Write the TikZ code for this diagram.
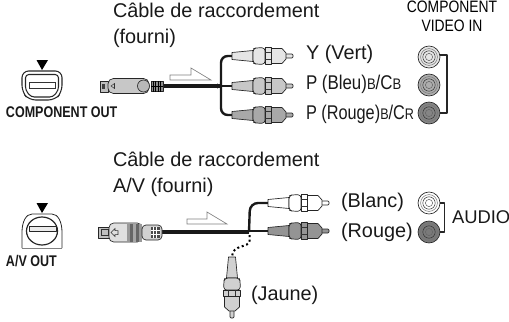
\documentclass[tikz,border=0pt]{standalone}
\usepackage{fontspec}
\setmainfont{Liberation Sans}
\usepackage{graphicx}
\tikzset{
  lab/.style={anchor=base west,inner sep=0pt,outer sep=0pt,font=\fontsize{14.9}{16}\selectfont,text=black!90},
  hw/.style={draw=black!85,line width=.5pt,line join=round},
  thin hw/.style={draw=black!80,line width=.38pt},
  flow/.style={draw=black!50,fill=white,line width=.5pt},
  cablemain/.style={draw=black!90,line width=3.6pt},
  cablearm/.style={draw=black!90,line width=1.8pt},
  cablethin/.style={draw=black!90,line width=1.3pt},
}
\newcommand\rcaplug[4]{%
\begin{scope}[shift={(#1,#2)},rotate=#3]
 \draw[hw,fill=#4,rounded corners=.8pt] (53,-2) -- (61,-2) -- (61,2) -- (53,2) -- cycle;
 \draw[hw,fill=#4] (0,-3.5) -- (21,-5.5) -- (21,5.5) -- (0,3.5) -- cycle;
 \draw[hw,fill=#4,rounded corners=2.2pt] (21,-7) -- (24,-8.2) -- (33,-8.2) -- (33,8.2) -- (24,8.2) -- (21,7) -- cycle;
 \draw[hw,fill=#4] (39,-7.5) -- (50,-7.5) -- (54,-3) -- (54,3) -- (50,7.5) -- (39,7.5) -- cycle;
 \draw[hw,fill=#4] (33,-8.8) rectangle (39,8.8);
 \draw[thin hw] (33,-3.5) -- (39,-3.5) (33,3.5) -- (39,3.5);
\end{scope}}
\newcommand\jack[4]{%
 \draw[hw,fill=#3] (#1,#2) circle (11);
 \draw[thin hw,draw=black!55] (#1,#2) circle (8.4);
 \draw[thin hw,fill=#4] (#1,#2) circle (6.2);
 \draw[thin hw,draw=black!60] (#1,#2) circle (3.6);
}
\newcommand\smc[1]{{\fontsize{11.5}{12}\selectfont #1}}
\begin{document}
\begin{tikzpicture}[x=.75pt,y=-.75pt]
\useasboundingbox (0,0) rectangle (509,321);
% ---- coordinates of plug ends
\coordinate (ya) at (233,56);
\coordinate (pb) at (233,86);
\coordinate (pr) at (233,115);
\coordinate (split) at (221,86);
\coordinate (wa) at (268,203);
\coordinate (ra) at (268,231);
\coordinate (split2) at (249,232);
\coordinate (ja) at (232,257);
% ---- top cable
\draw[cablemain] (160,86) -- (split);
\draw[cablearm,rounded corners=5pt] (221,87) -- (221,56) -- (ya);
\draw[cablearm,rounded corners=5pt] (221,85) -- (221,115) -- (pr);
\draw[cablethin] (split) -- (pb);
\fill[black!90] (217,83.5) -- (222,86) -- (217,88.5) -- cycle;
\rcaplug{232}{56}{0}{black!10}
\rcaplug{232}{86}{0}{black!22}
\rcaplug{232}{115}{0}{black!34}
% top connector
\draw[hw,fill=black!25] (100,81) rectangle (108,92);
\fill[black!75] (102,84) rectangle (105,89);
\draw[hw,fill=black!22,rounded corners=4pt] (108,78.5) -- (149,78.5) -- (149,93.5) -- (108,93.5) -- cycle;
\draw[hw,fill=black!45] (151,81) rectangle (163,91.5);
\foreach \x in {153,155.5,158,160.5} \draw[draw=black,line width=.7pt] (\x,81) -- (\x,91.5);
\draw[draw=black,line width=.5pt] (151,86) -- (163,86);
\draw[hw,fill=black!28] (143.5,86) circle (6);
\draw[thin hw] (111,86) -- (114.5,83.5) -- (114.5,88.5) -- cycle;
% flow arrows
\draw[flow] (170,75) -- (191,75) -- (191,68) -- (211,80) -- (170,80) -- cycle;
\draw[flow] (187,219) -- (207,219) -- (207,212) -- (227,224) -- (187,224) -- cycle;
% ---- top left icon
\fill[black] (36.5,60) -- (48,60) -- (42,70) -- cycle;
\draw[hw,line width=.8pt,rounded corners=5pt] (22,71) -- (62,71) -- (62,92) -- (55,100) -- (29,100) -- (22,92) -- cycle;
\draw[hw,line width=.8pt,rounded corners=2.5pt] (25.5,74.5) -- (58.5,74.5) -- (58.5,90) -- (53,97) -- (31,97) -- (25.5,90) -- cycle;
\draw[thin hw] (29,82) rectangle (55,88);
% ---- bottom left icon
\fill[black] (36.5,203) -- (48,203) -- (42,213) -- cycle;
\draw[hw,line width=.6pt] (22,248) -- (22,232) .. controls (22,222) and (26,214) .. (32,214) -- (52,214) .. controls (58,214) and (62,222) .. (62,232) -- (62,248);
\draw[draw=black!50,line width=.35pt] (22,248) -- (62,248);
\draw[hw,line width=.9pt] (42,231) ellipse (15.5 and 14);
\draw[hw,line width=.7pt,fill=black!8] (29,226.5) rectangle (56,231);
% ---- bottom cable
\draw[cablemain] (160,232) -- (split2);
\draw[cablearm,rounded corners=6pt] (249,232) -- (250,203) -- (wa);
\draw[cablethin] (248,231) -- (ra);
\rcaplug{268}{203}{0}{white}
\rcaplug{268}{231}{0}{black!42}
\draw[draw=black,line width=1.5pt,dash pattern=on 1.5pt off 2pt] (249.5,235) -- (249.5,241) .. controls (249,248) and (232,244) .. (ja);
\rcaplug{232}{257}{-90}{black!18}
% bottom connector
\draw[hw,fill=black!25] (98,227) rectangle (109,238);
\draw[thin hw] (101,229.5) rectangle (108,235.5);
\draw[hw,fill=black!12,rounded corners=3.5pt] (109,223) -- (142,223) -- (142,242) -- (109,242) -- cycle;
\draw[thin hw,fill=black!12] (111,232.5) -- (115,228.5) -- (115,230.5) -- (118,230.5) -- (118,234.5) -- (115,234.5) -- (115,236.5) -- cycle;
\foreach \x/\g in {127/40,130/60,133/35,136/60,139/40} \fill[black!\g] (\x,223.5) rectangle (\x+2.6,241.5);
\draw[hw,fill=black!18,rounded corners=3pt] (142,225) -- (162,225) -- (162,240) -- (142,240) -- cycle;
\fill[black!70] (151,227) rectangle (160,238);
\foreach \x in {153.5,156.5} \draw[draw=white,line width=.5pt] (\x,227) -- (\x,238);
\foreach \y in {230.5,234.5} \draw[draw=white,line width=.5pt] (151,\y) -- (160,\y);
% ---- jacks
\jack{429}{57}{black!10}{black!10}
\jack{429}{85}{black!32}{black!32}
\jack{429}{113}{black!48}{black!48}
\draw[hw,line width=.9pt] (440,55) -- (447,55) -- (447,113) -- (440,113);
\jack{429}{203}{white}{white}
\jack{429}{232}{black!52}{black!52}
\draw[hw,line width=.9pt] (440,203) -- (444.5,203) -- (444.5,232) -- (440,232);
% ---- texts
\node[lab] (t1) at (113,18) {Câble de raccordement};
\node[lab] (t2) at (113,44) {(fourni)};
\node[lab] (t3) at (113,166) {Câble de raccordement};
\node[lab] (t4) at (113,192) {A/V (fourni)};
\node[lab] (y) at (306,60) {Y (Vert)};
\node[lab] (b) at (306,89) {\scalebox{.85}[1]{P (Bleu)\smc{B}/C\smc{B}}};
\node[lab] (r) at (306,119) {\scalebox{.82}[1]{P (Rouge)\smc{B}/C\smc{R}}};
\node[lab] (bl) at (341,207) {(Blanc)};
\node[lab] (ro) at (341,237) {(Rouge)};
\node[lab] (ja2) at (251,300) {(Jaune)};
\node[lab,font=\fontsize{13.8}{14}\selectfont] (au) at (452,223) {AUDIO};
\node[inner sep=0pt,anchor=base,font=\fontsize{12.4}{14}\selectfont] (c1) at (452,13) {\scalebox{.84}[1]{COMPONENT}};
\node[inner sep=0pt,anchor=base,font=\fontsize{12.4}{14}\selectfont] (c2) at (452,32) {\scalebox{.84}[1]{VIDEO IN}};
\node[lab,font=\fontsize{11.6}{14}\selectfont\bfseries] (co) at (6,117) {\scalebox{.81}[1]{COMPONENT OUT}};
\node[lab,font=\fontsize{11.6}{14}\selectfont\bfseries] (av) at (6,266) {\scalebox{.81}[1]{A/V OUT}};
\end{tikzpicture}
\end{document}
